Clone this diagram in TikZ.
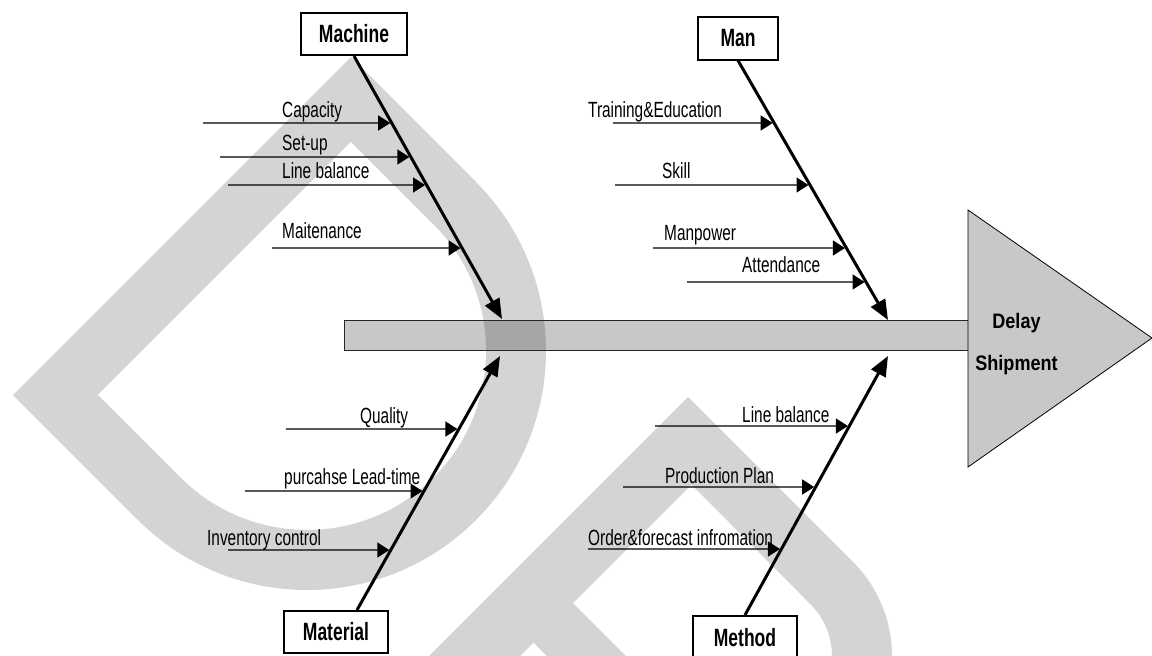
\documentclass[tikz,border=0pt]{standalone}
\usepackage{fontspec}
\usetikzlibrary{arrows.meta}
\newfontfamily\causefont[FakeStretch=0.70]{Liberation Sans}
\newfontfamily\catfont[FakeStretch=0.70]{Liberation Sans}
\newfontfamily\effectfont[FakeStretch=0.86]{Liberation Sans}
\definecolor{spinegray}{RGB}{200,200,200}
\definecolor{markgray}{RGB}{212,212,212}
\definecolor{markdark}{RGB}{166,166,166}
\tikzset{
  catbox/.style={draw=black, line width=2pt, fill=white, inner sep=0pt,
    font=\catfont\bfseries\fontsize{25}{25}\selectfont},
  bone/.style={line width=3pt, -{Triangle[length=20pt,width=16pt]}},
  cause/.style={line width=1.4pt, -{Triangle[length=12pt,width=15pt]}, shorten >=1.5pt},
  causelabel/.style={anchor=base west, inner sep=0pt,
    font=\causefont\fontsize{22}{22}\selectfont},
  effectlabel/.style={anchor=base, inner sep=0pt,
    font=\effectfont\bfseries\fontsize{21}{21}\selectfont},
}
\begin{document}
\begin{tikzpicture}[x=1pt,y=1pt,yscale=-1]
\useasboundingbox (0,0) rectangle (1152,656);
\clip (0,0) rectangle (1152,656);

% background mark: a rounded "D" band and a second band below
\def\markD{(476,182) -- (351,57) -- (13,395) -- (138,520)
    arc[start angle=135, end angle=-45, radius=239] -- cycle
  (433.6,224.4) -- (350.9,141.7) -- (97.8,394.8) -- (180.5,477.5)
    arc[start angle=135, end angle=-45, radius=179] -- cycle}
\fill[markgray, even odd rule] \markD;
\fill[markgray] (688,397) -- (385,700) -- (476,700) -- (691.5,484.5) -- (810.6,604.4)
  arc[start angle=-45, end angle=20, radius=73] -- (884,701.5)
  arc[start angle=20, end angle=-45, radius=133] -- cycle;
\fill[markgray] (500,609) -- (591,700) -- (670,700) -- (560,590) -- cycle;

% spine
\coordinate (spL) at (344,320);
\coordinate (spR) at (968,350);
\fill[spinegray] (spL) rectangle (spR);
\begin{scope}
  \clip (spL) rectangle (spR);
  \fill[markdark, even odd rule] \markD;
\end{scope}
\draw[line width=1pt, black!85] (spL) rectangle (spR);

% head
\coordinate (hT) at (968,210);
\coordinate (hP) at (1152,338);
\coordinate (hB) at (968,467);
\filldraw[fill=spinegray, draw=black, line width=0.8pt] (hT) -- (hP) -- (hB) -- cycle;
\node[effectlabel] (delay) at (1016.5,328) {Delay};
\node[effectlabel] (shipment) at (1016.5,370) {Shipment};

% category boxes
\node[catbox, minimum width=106, minimum height=42] (machine) at (354,34) {Machine};
\node[catbox, minimum width=80, minimum height=43] (man) at (738,38) {Man};
\node[catbox, minimum width=104, minimum height=42] (material) at (336,632) {Material};
\node[catbox, minimum width=104, minimum height=44] (method) at (745,638) {Method};

% main bones
\coordinate (mA) at (machine.south);
\coordinate (mT) at (502,319);
\coordinate (nA) at (man.south);
\coordinate (nT) at (888,320);
\coordinate (tA) at ([xshift=21pt]material.north);
\coordinate (tT) at (500,356);
\coordinate (dA) at (method.north);
\coordinate (dT) at (888,356);
\draw[bone] (mA) -- (mT);
\draw[bone] (nA) -- (nT);
\draw[bone] (tA) -- (tT);
\draw[bone] (dA) -- (dT);

% Machine causes
\coordinate (m1s) at (203,123);
\coordinate (m1e) at (intersection cs: first line={(mA)--(mT)}, second line={(0,123)--(1000,123)});
\coordinate (m2s) at (220,157);
\coordinate (m2e) at (intersection cs: first line={(mA)--(mT)}, second line={(0,157)--(1000,157)});
\coordinate (m3s) at (228,185);
\coordinate (m3e) at (intersection cs: first line={(mA)--(mT)}, second line={(0,185)--(1000,185)});
\coordinate (m4s) at (272,248);
\coordinate (m4e) at (intersection cs: first line={(mA)--(mT)}, second line={(0,248)--(1000,248)});
\draw[cause] (m1s) -- (m1e);
\draw[cause] (m2s) -- (m2e);
\draw[cause] (m3s) -- (m3e);
\draw[cause] (m4s) -- (m4e);
\node[causelabel] (m1l) at (282,117) {Capacity};
\node[causelabel] (m2l) at (282,150) {Set-up};
\node[causelabel] (m3l) at (282,178) {Line balance};
\node[causelabel] (m4l) at (282,238) {Maitenance};

% Man causes
\coordinate (n1s) at (613,123);
\coordinate (n1e) at (intersection cs: first line={(nA)--(nT)}, second line={(0,123)--(1100,123)});
\coordinate (n2s) at (615,185);
\coordinate (n2e) at (intersection cs: first line={(nA)--(nT)}, second line={(0,185)--(1100,185)});
\coordinate (n3s) at (653,248);
\coordinate (n3e) at (intersection cs: first line={(nA)--(nT)}, second line={(0,248)--(1100,248)});
\coordinate (n4s) at (687,282);
\coordinate (n4e) at (intersection cs: first line={(nA)--(nT)}, second line={(0,282)--(1100,282)});
\draw[cause] (n1s) -- (n1e);
\draw[cause] (n2s) -- (n2e);
\draw[cause] (n3s) -- (n3e);
\draw[cause] (n4s) -- (n4e);
\node[causelabel] (n1l) at (588,117) {Training\&Education};
\node[causelabel] (n2l) at (662,178) {Skill};
\node[causelabel] (n3l) at (664,240) {Manpower};
\node[causelabel] (n4l) at (742,272) {Attendance};

% Material causes
\coordinate (t1s) at (286,429);
\coordinate (t1e) at (intersection cs: first line={(tA)--(tT)}, second line={(0,429)--(1000,429)});
\coordinate (t2s) at (245,491);
\coordinate (t2e) at (intersection cs: first line={(tA)--(tT)}, second line={(0,491)--(1000,491)});
\coordinate (t3s) at (228,550);
\coordinate (t3e) at (intersection cs: first line={(tA)--(tT)}, second line={(0,550)--(1000,550)});
\draw[cause] (t1s) -- (t1e);
\draw[cause] (t2s) -- (t2e);
\draw[cause] (t3s) -- (t3e);
\node[causelabel] (t1l) at (360,423) {Quality};
\node[causelabel] (t2l) at (284,484) {purcahse Lead-time};
\node[causelabel] (t3l) at (207,545) {Inventory control};

% Method causes
\coordinate (d1s) at (655,426);
\coordinate (d1e) at (intersection cs: first line={(dA)--(dT)}, second line={(0,426)--(1100,426)});
\coordinate (d2s) at (623,487);
\coordinate (d2e) at (intersection cs: first line={(dA)--(dT)}, second line={(0,487)--(1100,487)});
\coordinate (d3s) at (588,549);
\coordinate (d3e) at (intersection cs: first line={(dA)--(dT)}, second line={(0,549)--(1100,549)});
\draw[cause] (d1s) -- (d1e);
\draw[cause] (d2s) -- (d2e);
\draw[cause] (d3s) -- (d3e);
\node[causelabel] (d1l) at (742,422) {Line balance};
\node[causelabel] (d2l) at (665,483) {Production Plan};
\node[causelabel] (d3l) at (588,545) {Order\&forecast infromation};
\end{tikzpicture}
\end{document}
